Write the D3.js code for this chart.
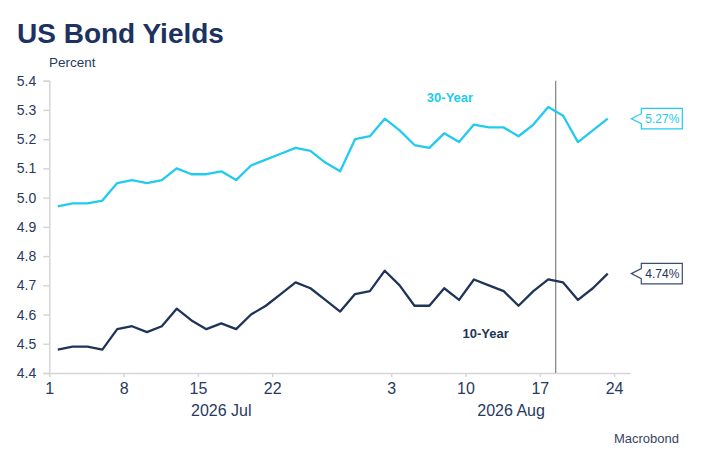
<!DOCTYPE html>
<html>
<head>
<meta charset="utf-8">
<script src="https://cdn.jsdelivr.net/npm/d3@7"></script>
<style>
  html, body { margin: 0; padding: 0; background: #fff; }
  svg { display: block; font-family: "Liberation Sans", Arial, sans-serif; }
</style>
</head>
<body>
<svg id="chart" width="701" height="467"></svg>
<script>
// ---- Data ----
const dates = [
  "2026-07-01","2026-07-02","2026-07-03","2026-07-06","2026-07-07","2026-07-08","2026-07-09","2026-07-10",
  "2026-07-13","2026-07-14","2026-07-15","2026-07-16","2026-07-17","2026-07-20","2026-07-21","2026-07-22",
  "2026-07-23","2026-07-24","2026-07-27","2026-07-28","2026-07-29","2026-07-30","2026-07-31",
  "2026-08-03","2026-08-04","2026-08-05","2026-08-06","2026-08-07","2026-08-10","2026-08-11","2026-08-12",
  "2026-08-13","2026-08-14","2026-08-17","2026-08-18","2026-08-19","2026-08-20","2026-08-21"
];
const yield30 = [
  4.97,4.98,4.98,4.99,5.05,5.06,5.05,5.06,5.10,5.08,5.08,5.09,5.06,5.11,5.13,5.15,
  5.17,5.16,5.12,5.09,5.20,5.21,5.27,5.23,5.18,5.17,5.22,5.19,5.25,5.24,5.24,5.21,
  5.25,5.31,5.28,5.19,5.23,5.27
];
const yield10 = [
  4.48,4.49,4.49,4.48,4.55,4.56,4.54,4.56,4.62,4.58,4.55,4.57,4.55,4.60,4.63,4.67,
  4.71,4.69,4.65,4.61,4.67,4.68,4.75,4.70,4.63,4.63,4.69,4.65,4.72,4.70,4.68,4.63,
  4.68,4.72,4.71,4.65,4.69,4.74
];
const xTickDates  = ["2026-07-01","2026-07-08","2026-07-15","2026-07-22","2026-08-03","2026-08-10","2026-08-17","2026-08-24"];
const xTickLabels = ["1","8","15","22","3","10","17","24"];
const monthLabels = ["2026 Jul","2026 Aug"];
const monthStarts = ["2026-07-01","2026-08-03"];
const yTicks = [4.4,4.5,4.6,4.7,4.8,4.9,5.0,5.1,5.2,5.3,5.4];
const markerDate = "2026-08-17";

// ---- Helpers ----
const parse = d3.utcParse("%Y-%m-%d");
const start = parse(dates[0]);
function bizIndex(s) {
  // count business days from first date
  const d = parse(s);
  let n = 0, cur = new Date(start);
  while (cur < d) {
    cur = d3.utcDay.offset(cur, 1);
    const wd = cur.getUTCDay();
    if (wd !== 0 && wd !== 6) n++;
  }
  return n;
}

const svg = d3.select("#chart");
const C30 = "#22cbed", C10 = "#1f3457", NAVY = "#1c3260", TXT = "#283a60", AX = "#d6d6d6";

const x = d3.scaleLinear().domain([-0.57, 38.5]).range([49.3, 630]);
const y = d3.scaleLinear().domain([4.4, 5.4]).range([373, 80.7]);

// Title
svg.append("text").attr("x", 17).attr("y", 42.5)
  .attr("font-size", 28).attr("font-weight", "bold").attr("fill", NAVY)
  .text("US Bond Yields");
svg.append("text").attr("x", 49).attr("y", 66.5)
  .attr("font-size", 13.5).attr("fill", TXT).text("Percent");

// Y axis
const yAxis = svg.append("g").attr("transform", "translate(49.3,0)")
  .call(d3.axisLeft(y).tickValues(yTicks).tickFormat(d3.format(".1f")).tickSize(6).tickPadding(7));
yAxis.select(".domain").attr("stroke", AX).attr("stroke-width", 1.5);
yAxis.selectAll(".tick line").attr("stroke", AX).attr("stroke-width", 1.5);
yAxis.selectAll(".tick text").attr("font-size", 14).attr("fill", TXT)
  .attr("font-family", "'Liberation Sans', Arial, sans-serif");

// X axis
const xTickPos = xTickDates.map(d => bizIndex(d) - 0.57);
const xAxis = svg.append("g").attr("transform", "translate(0,373)")
  .call(d3.axisBottom(x).tickValues(xTickPos).tickFormat((d, i) => xTickLabels[i]).tickSize(4).tickSizeOuter(0).tickPadding(6));
xAxis.select(".domain").attr("stroke", AX).attr("stroke-width", 1.5);
xAxis.selectAll(".tick line").attr("stroke", AX).attr("stroke-width", 1.5);
xAxis.selectAll(".tick text").attr("font-size", 16).attr("fill", TXT)
  .attr("font-family", "'Liberation Sans', Arial, sans-serif");

// Month labels centred over their span
const spans = monthStarts.map((m, i) => {
  const a = bizIndex(m) - 0.5;
  const b = i + 1 < monthStarts.length ? bizIndex(monthStarts[i + 1]) - 0.5 : x.domain()[1];
  return [Math.max(a, x.domain()[0]), b];
});
svg.selectAll(".month").data(monthLabels).enter().append("text")
  .attr("x", (d, i) => x((spans[i][0] + spans[i][1]) / 2))
  .attr("y", 416).attr("text-anchor", "middle")
  .attr("font-size", 16).attr("fill", TXT).text(d => d);

// Vertical marker line
const mi = bizIndex(markerDate) + 0.5;
svg.append("line").attr("x1", x(mi)).attr("x2", x(mi))
  .attr("y1", y(5.4)).attr("y2", y(4.4))
  .attr("stroke", "#8a8a8a").attr("stroke-width", 1.3);

// Lines
const line = d3.line().x((d, i) => x(i)).y(d => y(d));
svg.append("path").datum(yield30).attr("d", line)
  .attr("fill", "none").attr("stroke", C30).attr("stroke-width", 2.3).attr("stroke-linejoin", "round");
svg.append("path").datum(yield10).attr("d", line)
  .attr("fill", "none").attr("stroke", C10).attr("stroke-width", 2.3).attr("stroke-linejoin", "round");

// Series labels
svg.append("text").attr("x", 450).attr("y", 102).attr("text-anchor", "middle")
  .attr("font-size", 13).attr("font-weight", "bold").attr("fill", C30).text("30-Year");
svg.append("text").attr("x", 485.7).attr("y", 338).attr("text-anchor", "middle")
  .attr("font-size", 13).attr("font-weight", "bold").attr("fill", C10).text("10-Year");

// Last-value callouts
function callout(val, color, textColor) {
  const cy = y(val);
  const left = 641.3, right = 682.3, tip = 631.3, h = 20.5;
  const top = cy - h / 2, bot = cy + h / 2;
  const p = `M${tip},${cy} L${left},${cy - 5} L${left},${top} L${right},${top} L${right},${bot} L${left},${bot} L${left},${cy + 5} Z`;
  svg.append("path").attr("d", p).attr("fill", "#fff").attr("stroke", color).attr("stroke-width", 1.2);
  svg.append("text").attr("x", (left + right) / 2 + 0.5).attr("y", cy + 4.3).attr("text-anchor", "middle")
    .attr("font-size", 12).attr("fill", textColor).text(d3.format(".2f")(val) + "%");
}
callout(yield30[yield30.length - 1], C30, C30);
callout(yield10[yield10.length - 1], "#3a4e70", C10);

// Source
svg.append("text").attr("x", 679).attr("y", 442.5).attr("text-anchor", "end")
  .attr("font-size", 13).attr("fill", "#3a4563").text("Macrobond");
</script>
</body>
</html>
